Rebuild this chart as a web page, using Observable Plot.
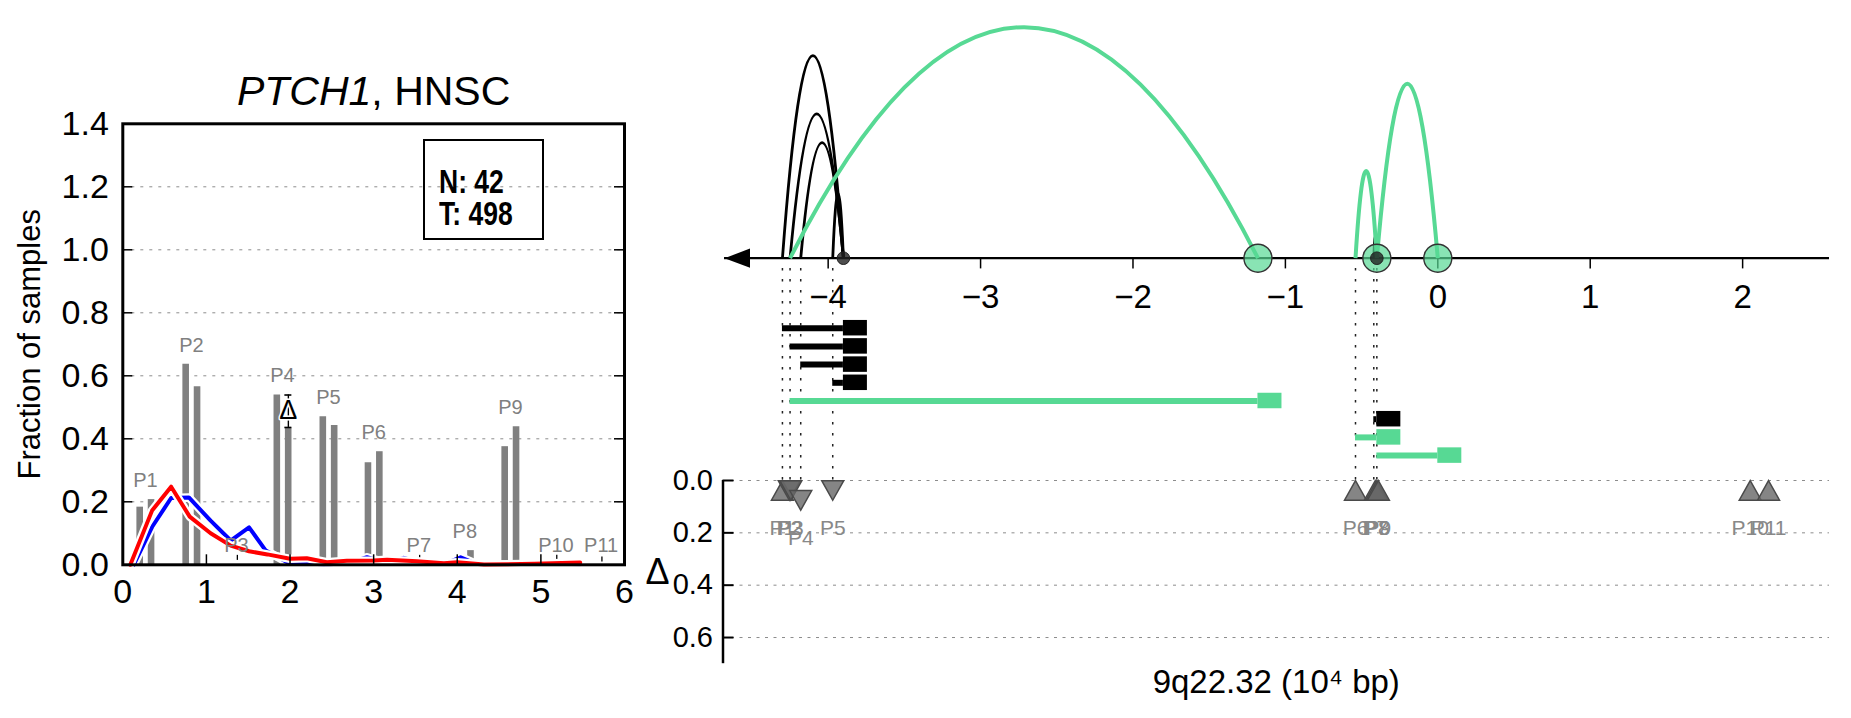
<!DOCTYPE html>
<html>
<head>
<meta charset="utf-8">
<script src="https://cdn.jsdelivr.net/npm/d3@7"></script>
<script src="https://cdn.jsdelivr.net/npm/@observablehq/plot@0.6"></script>
<style>
  html, body { margin: 0; padding: 0; background: #fff; }
  #wrap { position: relative; width: 1851px; height: 718px; overflow: hidden;
          font-family: "Liberation Sans", Arial, Helvetica, sans-serif; }
  #legend { position: absolute; left: 423px; top: 139px; width: 117px; height: 97px;
            border: 2.5px solid #000; }
  #legend div { position: absolute; left: 13.5px; font-weight: bold; font-size: 34px; line-height: 34px;
                font-family: "Liberation Sans", Arial, sans-serif; white-space: nowrap;
                transform: scaleX(0.78); transform-origin: 0 50%; }
</style>
</head>
<body>
<div id="wrap"></div>
<script>
// ================= DATA =================
// Left panel: fraction of samples per peak (two bars per peak)
const pairLabels  = ["P1","P2","P3","P4","P5","P6","P7","P8","P9","P10","P11"];
const pairCenters = [0.27, 0.82, 1.36, 1.91, 2.46, 3.0, 3.54, 4.09, 4.635, 5.18, 5.72];
const barsFirst   = [0.183, 0.637, 0, 0.539, 0.470, 0.324, 0, 0.015, 0.375, 0, 0];
const barsSecond  = [0.207, 0.565, 0, 0.435, 0.442, 0.359, 0, 0.045, 0.438, 0, 0];

// Left panel: distribution curves
const blueX = [0.13, 0.35, 0.578, 0.79, 1.05, 1.29, 1.51, 1.71, 2.0, 2.2, 2.44, 2.68, 2.92, 3.16, 3.36, 3.6, 3.84, 4.04, 4.2, 4.5, 5.0, 5.47];
const blueY = [0, 0.12, 0.212, 0.214, 0.14, 0.077, 0.119, 0.045, 0.003, 0.003, 0.002, 0.004, 0.024, 0.006, 0.022, 0.004, 0.002, 0.024, 0.006, 0, 0, 0.002];
const redX  = [0.09, 0.35, 0.578, 0.80, 1.05, 1.29, 1.51, 1.73, 2.0, 2.2, 2.44, 2.68, 3.0, 3.16, 3.52, 3.84, 4.0, 4.32, 4.92, 5.47];
const redY  = [0, 0.172, 0.248, 0.153, 0.10, 0.061, 0.043, 0.033, 0.019, 0.021, 0.008, 0.013, 0.014, 0.016, 0.011, 0.005, 0.008, 0.001, 0.003, 0.007];

// Left panel: significant difference marker and small whiskers
const deltaX = [1.98], deltaY = [0.491], deltaLo = [0.436], deltaHi = [0.539];
const whiskerX  = [1.37, 3.55, 5.19, 5.73];
const whiskerLo = [0.014, 0.019, 0.014, 0.009];
const whiskerHi = [0.030, 0.030, 0.030, 0.025];

const leftXTicks = [0, 1, 2, 3, 4, 5, 6];
const leftYTicks = [0, 0.2, 0.4, 0.6, 0.8, 1.0, 1.2, 1.4];
const leftGrid   = [0.2, 0.4, 0.6, 0.8, 1.0, 1.2];
const legendLines = ["N: 42", "T: 498"];

// Right panel: rearrangement events (start, end, class, arc height)
const eventStart = [-4.30, -4.25, -4.18, -3.97, -4.25, -0.42, -0.54, -0.40];
const eventEnd   = [-3.90, -3.90, -3.90, -3.90, -1.18, -0.40, -0.40, 0.0];
const eventClass = ["black","black","black","black","green","black","green","green"];
const eventArc   = [0.877, 0.625, 0.50, 0.28, 1.0, 0.095, 0.377, 0.755];

// Right panel: breakpoints with delta
const bpLabels = ["P1","P2","P3","P4","P5","P6","P7","P8","P9","P10","P11"];
const bpPos    = [-4.30, -4.255, -4.245, -4.18, -3.97, -0.54, -0.41, -0.40, -0.39, 2.05, 2.17];
const bpDelta  = [0.038, 0.038, 0.038, 0.076, 0.038, 0.038, 0.038, 0.038, 0.038, 0.038, 0.038];
const bpDir    = ["up","down","down","down","down","up","up","up","up","up","up"];

const rightXTicks = [-4, -3, -2, -1, 0, 1, 2];
const deltaTicks  = [0, 0.2, 0.4, 0.6];
const axisExtent  = [-4.68, 2.57];

// ================= STYLE =================
const W = 1851, H = 718;
const FONT = '"Liberation Sans", Arial, Helvetica, sans-serif';
const GREEN = "#57d994";
const classColor = {black: "#000000", green: GREEN};
const svgStyle = {position: "absolute", left: "0px", top: "0px", background: "transparent",
                  overflow: "visible", fontFamily: FONT, maxWidth: "none"};

// ================= BUILD =================
const wrap = document.getElementById("wrap");

const bars = [];
pairLabels.forEach((p, i) => {
  bars.push({x: pairCenters[i] - 0.068, y: barsFirst[i]});
  bars.push({x: pairCenters[i] + 0.068, y: barsSecond[i]});
});
const pairs = pairLabels.map((p, i) => ({label: p, x: pairCenters[i], top: Math.max(barsFirst[i], barsSecond[i])}));
const blue = blueX.map((x, i) => ({x, y: blueY[i]}));
const red = redX.map((x, i) => ({x, y: redY[i]}));
const delta = deltaX.map((x, i) => ({x, y: deltaY[i], lo: deltaLo[i], hi: deltaHi[i]}));
const whiskers = whiskerX.map((x, i) => ({x, lo: whiskerLo[i], hi: whiskerHi[i]}));

const left = Plot.plot({
  width: W, height: H,
  marginLeft: 122.3, marginRight: W - 624, marginTop: 123.3, marginBottom: H - 564.3,
  x: {domain: [0, 6]},
  y: {domain: [0, 1.4]},
  style: svgStyle,
  marks: [
    Plot.ruleY(leftGrid, {y: d => d, stroke: "#8c8c8c", strokeWidth: 1, strokeDasharray: "3,6"}),
    Plot.ruleX(bars.filter(b => b.y > 0), {x: "x", y1: 0, y2: "y", stroke: "#808080", strokeWidth: 6.6}),
    Plot.ruleX(whiskers, {x: "x", y1: "lo", y2: "hi", stroke: "#000", strokeWidth: 1.3}),
    Plot.ruleX(delta, {x: "x", y1: "lo", y2: "hi", stroke: "#000", strokeWidth: 1.4}),
    Plot.ruleY(delta, {y: "lo", x1: "x", x2: "x", insetLeft: -3.5, insetRight: -3.5, stroke: "#000", strokeWidth: 1.6}),
    Plot.ruleY(delta, {y: "hi", x1: "x", x2: "x", insetLeft: -3.5, insetRight: -3.5, stroke: "#000", strokeWidth: 1.6}),
    Plot.text(delta, {x: "x", y: "y", text: () => "Δ", fontSize: 27, fill: "#000", stroke: "white", strokeWidth: 3, paintOrder: "stroke", lineAnchor: "middle"}),
    Plot.line(blue, {x: "x", y: "y", stroke: "white", strokeWidth: 8.5, strokeLinejoin: "round"}),
    Plot.line(blue, {x: "x", y: "y", stroke: "#0000ff", strokeWidth: 4, strokeLinejoin: "round"}),
    Plot.line(red, {x: "x", y: "y", stroke: "white", strokeWidth: 8.5, strokeLinejoin: "round"}),
    Plot.line(red, {x: "x", y: "y", stroke: "#ff0000", strokeWidth: 4, strokeLinejoin: "round"}),
    Plot.text(pairs, {x: "x", y: "top", text: "label", dy: -19, fill: "#808080", fontSize: 20, lineAnchor: "middle"}),
    Plot.frame({stroke: "#000", strokeWidth: 3}),
    Plot.ruleX(leftXTicks, {x: d => d, y1: 0, y2: 0, insetTop: -10, stroke: "#000", strokeWidth: 1.5}),
    Plot.ruleY(leftYTicks, {y: d => d, x1: 0, x2: 0, insetRight: -10, stroke: "#000", strokeWidth: 1.5}),
    Plot.ruleY(leftYTicks, {y: d => d, x1: 6, x2: 6, insetLeft: -10, stroke: "#000", strokeWidth: 1.5}),
    Plot.axisX({ticks: leftXTicks, tickSize: 0, tickPadding: 14, fontSize: 34, label: null, tickFormat: d => String(d)}),
    Plot.axisY({ticks: leftYTicks, tickSize: 0, tickPadding: 14, fontSize: 34, label: null, tickFormat: d3.format(".1f")}),
    Plot.text(["Fraction of samples"], {text: d => d, frameAnchor: "left", textAnchor: "middle", rotate: -90, dx: -93, fontSize: 31, lineAnchor: "middle"}),
    Plot.text(["PTCH1"], {text: d => d, frameAnchor: "top", textAnchor: "end", dx: -2.3, dy: -32, fontSize: 41, fontStyle: "italic", lineAnchor: "middle"}),
    Plot.text([", HNSC"], {text: d => d, frameAnchor: "top", textAnchor: "start", dx: -2.3, dy: -32, fontSize: 41, lineAnchor: "middle"})
  ]
});
wrap.appendChild(left);

// right panel shared x
const rx = {domain: [-4.69, 2.57]};
const rMarginLeft = 722.5, rMarginRight = W - 1829;

const events = eventStart.map((s, i) => ({row: i, start: s, end: eventEnd[i], cls: eventClass[i], arc: eventArc[i]}));
const starts = Array.from(new Set(eventStart));
const greenEnds = Array.from(new Set(events.filter(e => e.cls === "green").map(e => e.end)));
const blackEnds = Array.from(new Set(events.filter(e => e.cls === "black").map(e => e.end)));

// dotted guides from the axis down to the delta panel
const guides = Plot.plot({
  width: W, height: H, marginLeft: rMarginLeft, marginRight: rMarginRight, marginTop: 268, marginBottom: H - 480,
  x: {...rx, axis: null}, y: {domain: [0, 1], axis: null},
  style: svgStyle,
  marks: [
    Plot.ruleX(starts, {x: d => d, stroke: "#222", strokeWidth: 1.5, strokeDasharray: "2.5,8.5"})
  ]
});
wrap.appendChild(guides);

// event bars
const eventsPlot = Plot.plot({
  width: W, height: H, marginLeft: rMarginLeft, marginRight: rMarginRight, marginTop: 327.7, marginBottom: H - 455.1,
  x: {...rx, axis: null}, y: {domain: [0, 7], reverse: true, axis: null},
  style: svgStyle,
  marks: [
    Plot.ruleY(events, {y: "row", x1: "start", x2: "end", stroke: d => classColor[d.cls], strokeWidth: 6}),
    Plot.rect(events, {x1: "end", x2: "end", y1: "row", y2: "row", insetLeft: 0, insetRight: -24,
                       insetTop: -7.75, insetBottom: -7.75, fill: d => classColor[d.cls]})
  ]
});
wrap.appendChild(eventsPlot);

// arcs on the genomic axis
function parabola(context) {
  let pts = [];
  return {
    areaStart() {}, areaEnd() {},
    lineStart() { pts = []; },
    point(x, y) { pts.push([+x, +y]); },
    lineEnd() {
      if (pts.length < 2) return;
      const [[x0, y0], [x1, y1]] = pts;
      context.moveTo(x0, y0);
      context.quadraticCurveTo((x0 + x1) / 2, y0 - 2 * (y0 - y1), x1, y0);
    }
  };
}
const arrowLeft = {draw(ctx) { ctx.moveTo(0, 0); ctx.lineTo(25.5, -9.6); ctx.lineTo(25.5, 9.6); ctx.closePath(); }};

const arcsPlot = Plot.plot({
  width: W, height: H, marginLeft: rMarginLeft, marginRight: rMarginRight, marginTop: 26.7, marginBottom: H - 257.7,
  x: {...rx}, y: {domain: [0, 1], axis: null},
  style: svgStyle,
  marks: [
    Plot.ruleY([0], {x1: axisExtent[0], x2: axisExtent[1], stroke: "#000", strokeWidth: 2.3}),
    Plot.dot([axisExtent[0]], {x: d => d, y: 0, symbol: arrowLeft, fill: "#000", stroke: "none"}),
    Plot.axisX({ticks: rightXTicks, tickSize: 10.7, tickPadding: 16, fontSize: 33, label: null, strokeWidth: 1.5}),
    Plot.link(events.filter(e => e.cls === "black"), {x1: "start", y1: 0, x2: "end", y2: "arc", curve: parabola,
      stroke: "#000", strokeWidth: 2.8, fill: "none"}),
    Plot.link(events.filter(e => e.cls === "green"), {x1: "start", y1: 0, x2: "end", y2: "arc", curve: parabola,
      stroke: GREEN, strokeWidth: 4, fill: "none"}),
    Plot.dot(greenEnds, {x: d => d, y: 0, r: 14, fill: GREEN, fillOpacity: 0.7, stroke: "#333", strokeWidth: 1.4}),
    Plot.dot(blackEnds, {x: d => d, y: 0, r: 6.3, fill: "#222", fillOpacity: 0.8, stroke: "#222", strokeWidth: 1})
  ]
});
wrap.appendChild(arcsPlot);

// delta panel
const triUp = {draw(ctx) { ctx.moveTo(0, -9.8); ctx.lineTo(11, 9.8); ctx.lineTo(-11, 9.8); ctx.closePath(); }};
const triDown = {draw(ctx) { ctx.moveTo(0, 9.8); ctx.lineTo(11, -9.8); ctx.lineTo(-11, -9.8); ctx.closePath(); }};
const bps = bpLabels.map((l, i) => ({label: l, x: bpPos[i], d: bpDelta[i], dir: bpDir[i]}));

const deltaPlot = Plot.plot({
  width: W, height: H, marginLeft: rMarginLeft, marginRight: rMarginRight, marginTop: 480, marginBottom: H - 663.2,
  x: {...rx, axis: null}, y: {domain: [0, 0.7], reverse: true},
  style: svgStyle,
  marks: [
    Plot.ruleY(deltaTicks, {y: d => d, stroke: "#8c8c8c", strokeWidth: 1, strokeDasharray: "3,5.5"}),
    Plot.ruleX([rx.domain[0]], {x: d => d, y1: 0, y2: 0.7, stroke: "#000", strokeWidth: 2.5}),
    Plot.ruleY(deltaTicks, {y: d => d, x1: rx.domain[0], x2: rx.domain[0], insetRight: -11, stroke: "#000", strokeWidth: 2}),
    Plot.axisY({ticks: deltaTicks, tickSize: 0, tickPadding: 10, fontSize: 29, label: null, tickFormat: d3.format(".1f")}),
    Plot.dot(bps.filter(b => b.dir === "up"), {x: "x", y: "d", symbol: triUp, fill: "#666", fillOpacity: 0.8, stroke: "#4a4a4a", strokeWidth: 1.5}),
    Plot.dot(bps.filter(b => b.dir === "down"), {x: "x", y: "d", symbol: triDown, fill: "#666", fillOpacity: 0.8, stroke: "#4a4a4a", strokeWidth: 1.5}),
    Plot.text(bps, {x: "x", y: "d", text: "label", dy: 38, fill: "#888", fontSize: 21, lineAnchor: "middle"}),
    Plot.text(["Δ"], {text: d => d, frameAnchor: "left", textAnchor: "middle", dx: -65.5, fontSize: 36, lineAnchor: "middle"}),
    Plot.text(["9q22.32 (10⁴ bp)"], {text: d => d, frameAnchor: "bottom", textAnchor: "middle", dy: 19, fontSize: 33, lineAnchor: "middle"})
  ]
});
wrap.appendChild(deltaPlot);

// legend box (N / T counts)
const legend = document.createElement("div");
legend.id = "legend";
legendLines.forEach((t, i) => {
  const d = document.createElement("div");
  d.textContent = t;
  d.style.top = (23 + i * 31.7) + "px";
  legend.appendChild(d);
});
wrap.appendChild(legend);
</script>
</body>
</html>
